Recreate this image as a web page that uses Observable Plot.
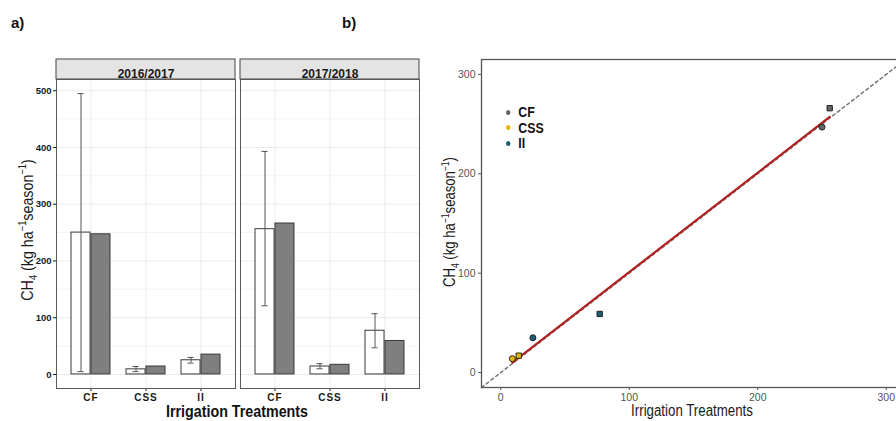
<!DOCTYPE html>
<html><head><meta charset="utf-8">
<script src="https://cdn.jsdelivr.net/npm/d3@7"></script>
<script src="https://cdn.jsdelivr.net/npm/@observablehq/plot@0.6"></script>
<style>
html,body{margin:0;padding:0;background:#fff;overflow:hidden}
#root{position:relative;width:896px;height:421px;overflow:hidden;background:#fff;font-family:"Liberation Sans",Arial,sans-serif;color:#1a1a1a}
.abs{position:absolute;white-space:nowrap;line-height:1}
.panel-tag{font-weight:bold;font-size:15px;color:#111}
sub,sup{font-size:65%;line-height:0}
.leg{position:absolute;left:506px;font-weight:bold;font-size:14px;color:#111;transform:scaleX(0.88);transform-origin:left center;line-height:1}
.leg span.dot{display:inline-block;width:5px;height:5px;border-radius:50%;margin-right:9px;vertical-align:middle;position:relative;top:-1px}
</style></head><body><div id="root"></div>
<script>
// ---- data ----
const seasons = ["2016/2017", "2017/2018"];
const treatments = ["CF", "CSS", "II"];
// white bars: observed means with error bar limits
const observed2016 = [250, 9, 25];
const observed2017 = [256, 14, 77];
const errLow2016 = [5, 5, 20];
const errHigh2016 = [495, 14, 30];
const errLow2017 = [121, 10, 47];
const errHigh2017 = [393, 19, 107];
// grey bars: simulated values
const simulated2016 = [247, 14, 35];
const simulated2017 = [266, 17, 59];
const yTicksA = [0, 100, 200, 300, 400, 500];
const yMinorA = [50, 150, 250, 350, 450];
const ticksB = [0, 100, 200, 300];
const domainA = [-24.75, 519.75];
const domainB = [-15, 315];
const treatmentColors = ["#666666", "#E7B800", "#1B5E78"];

const obs = [observed2016, observed2017];
const sim = [simulated2016, simulated2017];
const lo = [errLow2016, errLow2017];
const hi = [errHigh2016, errHigh2017];
const rows = seasons.flatMap((s, si) => treatments.map((t, ti) => ({
  season: s, treatment: t, observed: obs[si][ti], simulated: sim[si][ti], lo: lo[si][ti], hi: hi[si][ti]
})));

const root = document.getElementById("root");

// ---- panel a ----
const W1 = 440, H1 = 405, mT = 79, mB = 17, mL = 56, mR = 21;
const fxPadInner = 5 / 184;
const band = d3.scaleBand().domain(seasons).range([mL, W1 - mR]).paddingInner(fxPadInner).paddingOuter(0);
const xPadInner = 0.2857, xPadOuter = 0.243;
const bw = band.bandwidth() / (3 - xPadInner + 2 * xPadOuter) * (1 - xPadInner);
const capHalf = 3.5;

const chartA = Plot.plot({
  width: W1, height: H1,
  marginTop: mT, marginBottom: mB, marginLeft: mL, marginRight: mR,
  facet: {data: rows, x: "season"},
  fx: {domain: seasons, axis: null, paddingInner: fxPadInner, paddingOuter: 0},
  x: {domain: treatments, type: "band", paddingInner: xPadInner, paddingOuter: xPadOuter, label: null, tickSize: 3, tickPadding: 2},
  y: {domain: domainA, ticks: yTicksA, tickFormat: d => d, label: null, tickSize: 3, tickPadding: 2},
  style: {fontFamily: "'Liberation Sans',Arial,sans-serif", fontSize: "9.5px", fontWeight: "bold", color: "#1a1a1a", background: "transparent"},
  marks: [
    Plot.ruleY(yMinorA, {stroke: "#f4f4f4", facet: false}),
    Plot.ruleY(yTicksA, {stroke: "#ebebeb", facet: false}),
    Plot.ruleX(treatments, {x: d => d, stroke: "#ebebeb", facet: false}),
    Plot.barY(rows, {x: "treatment", y: "observed", fill: "white", stroke: "#3a3a3a", insetRight: bw / 2}),
    Plot.barY(rows, {x: "treatment", y: "simulated", fill: "#7f7f7f", stroke: "#3a3a3a", insetLeft: bw / 2}),
    Plot.ruleX(rows, {x: "treatment", y1: "lo", y2: "hi", dx: -bw / 4, stroke: "#555"}),
    Plot.tickY(rows, {x: "treatment", y: "lo", stroke: "#555", insetLeft: bw / 4 - capHalf, insetRight: bw * 3 / 4 - capHalf}),
    Plot.tickY(rows, {x: "treatment", y: "hi", stroke: "#555", insetLeft: bw / 4 - capHalf, insetRight: bw * 3 / 4 - capHalf}),
    Plot.frame({stroke: "#5a5a5a"}),
    Plot.text(rows, Plot.selectFirst({text: "season", frameAnchor: "top", dy: -10, fontSize: 12, fontWeight: "bold", fill: "#1a1a1a"}))
  ]
});
chartA.style.position = "absolute";
chartA.style.left = "0px";
chartA.style.top = "0px";
d3.select(chartA).insert("g", ":first-child")
  .selectAll("rect").data(seasons).join("rect")
  .attr("x", d => band(d)).attr("y", mT - 20)
  .attr("width", band.bandwidth()).attr("height", 20)
  .attr("fill", "#e4e4e4").attr("stroke", "#444");
// wider-set category tick labels
d3.select(chartA).selectAll('g[aria-label^="x-axis"] text')
  .style("font-size", "10px").style("letter-spacing", "1px");
root.appendChild(chartA);

// ---- panel b ----
const chartB = Plot.plot({
  width: 470, height: 405,
  marginTop: 59, marginBottom: 18, marginLeft: 41, marginRight: 5,
  x: {domain: domainB, ticks: ticksB, tickFormat: d => d, label: null, tickSize: 3, tickPadding: 3},
  y: {domain: domainB, ticks: ticksB, tickFormat: d => d, label: null, tickSize: 3, tickPadding: 3},
  color: {domain: treatments, range: treatmentColors},
  symbol: {domain: seasons, range: ["circle", "square"]},
  style: {fontFamily: "'Liberation Sans',Arial,sans-serif", fontSize: "10.5px", color: "#555555", background: "transparent"},
  marks: [
    Plot.line(domainB, {x: d => d, y: d => d, stroke: "#777", strokeDasharray: "3,3"}),
    Plot.linearRegressionY(rows, {x: "observed", y: "simulated", stroke: "#b22222", strokeWidth: 2.2, ci: 0}),
    Plot.dot(rows, {x: "observed", y: "simulated", fill: "treatment", symbol: "season", stroke: "#222", strokeWidth: 1, r: 3}),
    Plot.frame({stroke: "#555", strokeWidth: 1.3})
  ]
});
chartB.style.position = "absolute";
chartB.style.left = "440px";
chartB.style.top = "0px";
root.appendChild(chartB);

// ---- text ----
function addDiv(cls, html, left, top, style) {
  const d = document.createElement("div");
  d.className = "abs " + cls;
  d.innerHTML = html;
  d.style.left = left + "px";
  d.style.top = top + "px";
  if (style) Object.assign(d.style, style);
  root.appendChild(d);
}
addDiv("panel-tag", "a)", 11, 15);
addDiv("panel-tag", "b)", 342, 15);
const ylab = "CH<sub>4</sub> (kg ha<sup>−1</sup>season<sup>−1</sup>)";
addDiv("", ylab, 27, 230, {fontSize: "17px", color: "#1a1a1a", transform: "translate(-50%,-50%) rotate(-90deg) scaleX(0.84)"});
addDiv("", "Irrigation Treatments", 237, 411, {fontSize: "17px", fontWeight: "bold", color: "#111", transform: "translate(-50%,-50%) scaleX(0.84)"});
addDiv("", ylab, 450, 222, {fontSize: "16px", color: "#1a1a1a", transform: "translate(-50%,-50%) rotate(-90deg) scaleX(0.82)"});
addDiv("", "Irrigation Treatments", 692, 411, {fontSize: "16px", color: "#1a1a1a", transform: "translate(-50%,-50%) scaleX(0.83)"});

// legend
treatments.forEach((t, i) => {
  const d = document.createElement("div");
  d.className = "leg";
  d.style.top = (105 + i * 15.5) + "px";
  d.innerHTML = `<span class="dot" style="background:${treatmentColors[i]}"></span>${t}`;
  root.appendChild(d);
});
</script>
</body></html>
